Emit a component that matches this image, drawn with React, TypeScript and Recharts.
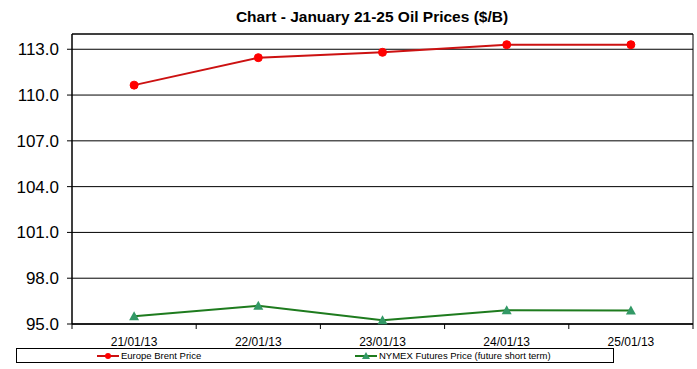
import {
  LineChart, Line, XAxis, YAxis, CartesianGrid, ReferenceArea
} from 'recharts'

const DATES = ['21/01/13', '22/01/13', '23/01/13', '24/01/13', '25/01/13']
const BRENT = [110.65, 112.45, 112.8, 113.3, 113.3]
const NYMEX = [95.5, 96.2, 95.25, 95.9, 95.88]
const Y_TICKS = [95, 98, 101, 104, 107, 110, 113]
const SERIES_NAMES = ['Europe Brent Price', 'NYMEX Futures Price (future short term)']

const FONT = '"Liberation Sans", Arial, sans-serif'
const RED_LINE = '#cc1111'
const RED_DOT = '#ff0000'
const GREEN_LINE = '#1e7b1e'
const GREEN_DOT = '#339966'

const chartData = DATES.map((d, i) => ({
  idx: i + 1,
  date: d,
  brent: BRENT[i],
  nymex: NYMEX[i],
}))

// ticks every half step: integers get a date label, halves get a tick mark
const X_TICKS = [0.5, 1, 1.5, 2, 2.5, 3, 3.5, 4, 4.5, 5, 5.5]

function XTick(props: any) {
  const { x, y, payload } = props
  const v = payload.value as number
  if (Number.isInteger(v)) {
    return (
      <text x={x} y={y + 22} textAnchor="middle" fontSize={12} fill="#000" fontFamily={FONT}>
        {DATES[v - 1]}
      </text>
    )
  }
  return <line x1={x} x2={x} y1={y} y2={y + 5} stroke="#000" />
}

function Triangle(props: any) {
  const { cx, cy } = props
  if (cx == null || cy == null) return null
  return (
    <path
      d={`M${cx},${cy - 5} L${cx + 5},${cy + 4} L${cx - 5},${cy + 4} Z`}
      fill={GREEN_DOT}
    />
  )
}

function LegendBox() {
  return (
    <div style={{
      position: 'absolute', left: 16, top: 348, width: 598, height: 15,
      border: '1px solid #000', boxSizing: 'border-box',
      fontFamily: FONT, fontSize: 9.5, color: '#000',
    }}>
      <div style={{ position: 'absolute', left: 79, top: 0, display: 'flex', alignItems: 'center', height: 13 }}>
        <svg width={24} height={10}>
          <line x1={1} x2={23} y1={5} y2={5} stroke={RED_LINE} strokeWidth={2} />
          <circle cx={12} cy={5} r={3} fill={RED_DOT} />
        </svg>
        <span style={{ marginLeft: 1 }}>{SERIES_NAMES[0]}</span>
      </div>
      <div style={{ position: 'absolute', left: 337, top: 0, display: 'flex', alignItems: 'center', height: 13 }}>
        <svg width={24} height={10}>
          <line x1={1} x2={23} y1={5} y2={5} stroke={GREEN_LINE} strokeWidth={2} />
          <path d="M12,1 L16,8 L8,8 Z" fill={GREEN_DOT} />
        </svg>
        <span style={{ marginLeft: 1 }}>{SERIES_NAMES[1]}</span>
      </div>
    </div>
  )
}

export default function App() {
  return (
    <div style={{
      position: 'absolute', left: 0, top: 0, width: 697, height: 369,
      background: '#fff', fontFamily: FONT,
    }}>
      <div style={{
        position: 'absolute', left: 0, top: 8, width: 744, textAlign: 'center',
        fontSize: 15.5, fontWeight: 'bold', color: '#000',
      }}>
        Chart - January 21-25 Oil Prices ($/B)
      </div>
      <LineChart
        width={697}
        height={369}
        data={chartData}
        margin={{ top: 34, right: 4, bottom: 0, left: 0 }}
      >
        <CartesianGrid horizontal vertical={false} stroke="#000" strokeWidth={1} />
        <ReferenceArea y1={95} y2={114} x1={0.5} x2={5.5} fill="none" stroke="#000" strokeWidth={1} />
        <XAxis
          dataKey="idx"
          type="number"
          domain={[0.5, 5.5]}
          ticks={X_TICKS}
          interval={0}
          tick={<XTick />}
          tickLine={false}
          tickSize={0}
          tickMargin={0}
          axisLine={{ stroke: '#000' }}
          height={45}
        />
        <YAxis
          type="number"
          domain={[95, 114]}
          ticks={Y_TICKS}
          interval={0}
          width={72}
          tickSize={5}
          tickMargin={8}
          tickFormatter={(v: number) => v.toFixed(1)}
          tick={{ fill: '#000', fontSize: 17, fontFamily: FONT }}
          tickLine={{ stroke: '#000' }}
          axisLine={{ stroke: '#000' }}
        />
        <Line
          dataKey="brent"
          name={SERIES_NAMES[0]}
          type="linear"
          stroke={RED_LINE}
          strokeWidth={2}
          dot={{ r: 4, fill: RED_DOT, stroke: RED_DOT, strokeWidth: 1 }}
          isAnimationActive={false}
        />
        <Line
          dataKey="nymex"
          name={SERIES_NAMES[1]}
          type="linear"
          stroke={GREEN_LINE}
          strokeWidth={2}
          dot={<Triangle />}
          isAnimationActive={false}
        />
      </LineChart>
      <LegendBox />
    </div>
  )
}
